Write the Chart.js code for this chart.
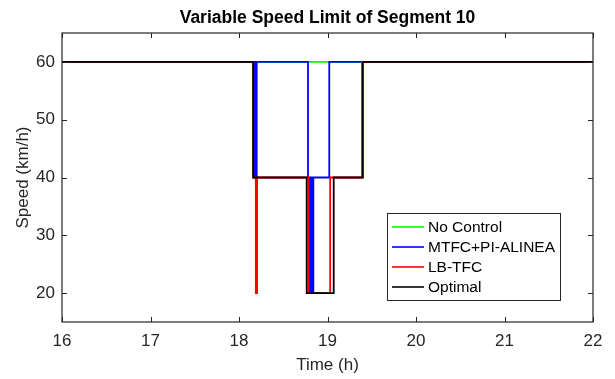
<!DOCTYPE html>
<html>
<head>
<meta charset="utf-8">
<script src="https://cdn.jsdelivr.net/npm/chart.js@4"></script>
<style>
  html, body { margin: 0; padding: 0; background: #fff; }
  #wrap { width: 615px; height: 379px; }
</style>
</head>
<body>
<div id="wrap"><canvas id="vslChart" width="615" height="379"></canvas></div>
<script>
// Speed limit of segment 10, each series as (time, new value) step points
const noControlTime = [16, 22];
const noControlSpeed = [60, 60];

const mtfcTime = [16, 18.18, 18.20, 18.78, 18.80, 18.81, 18.815, 18.825, 18.83, 18.84, 19.02, 22];
const mtfcSpeed = [60, 40, 60, 40, 20, 40, 20, 40, 20, 40, 60, 60];

const lbtfcTime = [16, 18.16, 18.19, 18.205, 18.785, 19.03, 19.39, 22];
const lbtfcSpeed = [60, 40, 20, 40, 20, 40, 60, 60];

const optimalTime = [16, 18.16, 18.765, 19.07, 19.40, 22];
const optimalSpeed = [60, 40, 20, 40, 60, 60];

const xTicks = [16, 17, 18, 19, 20, 21, 22];
const yTicks = [20, 30, 40, 50, 60];

const FONT = "'Liberation Sans', Arial, Helvetica, sans-serif";
const AXIS_COLOR = "#262626";

function toPoints(times, speeds) {
  return times.map((t, i) => ({ x: t, y: speeds[i] }));
}

// order: higher numbers are painted first, so Optimal ends up on top
function series(label, color, times, speeds, order) {
  return {
    label: label,
    data: toPoints(times, speeds),
    borderColor: color,
    backgroundColor: color,
    borderWidth: 1.8,
    stepped: true,
    pointRadius: 0,
    fill: false,
    order: order,
  };
}

// box, inward ticks, title and legend drawn like the matlab figure
const matlabFrame = {
  id: "matlabFrame",
  afterDatasetsDraw(chart) {
    const { ctx, chartArea: a, scales } = chart;
    const tick = 5;
    ctx.save();
    ctx.strokeStyle = AXIS_COLOR;
    ctx.lineWidth = 1;
    ctx.beginPath();
    xTicks.forEach((v) => {
      const px = Math.round(scales.x.getPixelForValue(v)) + 0.5;
      ctx.moveTo(px, a.bottom); ctx.lineTo(px, a.bottom - tick);
      ctx.moveTo(px, a.top); ctx.lineTo(px, a.top + tick);
    });
    yTicks.forEach((v) => {
      const py = Math.round(scales.y.getPixelForValue(v)) + 0.5;
      ctx.moveTo(a.left, py); ctx.lineTo(a.left + tick, py);
      ctx.moveTo(a.right, py); ctx.lineTo(a.right - tick, py);
    });
    ctx.stroke();
    ctx.lineWidth = 1.2;
    ctx.strokeRect(a.left, a.top, a.right - a.left, a.bottom - a.top);

    // title
    ctx.fillStyle = "#000";
    ctx.font = "bold 17.5px " + FONT;
    ctx.textAlign = "center";
    ctx.textBaseline = "alphabetic";
    ctx.fillText("Variable Speed Limit of Segment 10", (a.left + a.right) / 2, 22.5);

    // legend
    const lx = 387, ly = 213, lw = 173, lh = 87;
    ctx.fillStyle = "#fff";
    ctx.fillRect(lx, ly, lw, lh);
    ctx.strokeStyle = AXIS_COLOR;
    ctx.lineWidth = 1;
    ctx.strokeRect(lx + 0.5, ly + 0.5, lw, lh);
    ctx.font = "15.5px " + FONT;
    ctx.textAlign = "left";
    ctx.textBaseline = "middle";
    const entries = chart.data.datasets.slice();
    entries.forEach((ds, i) => {
      const y = ly + 14 + i * 20;
      ctx.strokeStyle = ds.borderColor;
      ctx.lineWidth = 1.6;
      ctx.beginPath();
      ctx.moveTo(lx + 5, y); ctx.lineTo(lx + 37, y);
      ctx.stroke();
      ctx.fillStyle = "#000";
      ctx.fillText(ds.label, lx + 41, y + 1);
    });
    ctx.restore();
  },
};

new Chart(document.getElementById("vslChart"), {
  type: "line",
  data: {
    datasets: [
      series("No Control", "#00ff00", noControlTime, noControlSpeed, 3),
      series("MTFC+PI-ALINEA", "#0000ff", mtfcTime, mtfcSpeed, 2),
      series("LB-TFC", "#ff0000", lbtfcTime, lbtfcSpeed, 1),
      series("Optimal", "#000000", optimalTime, optimalSpeed, 0),
    ],
  },
  options: {
    responsive: false,
    animation: false,
    layout: { padding: { top: 33, right: 22, left: 0, bottom: 0 } },
    plugins: {
      legend: { display: false },
      title: { display: false },
      tooltip: { enabled: false },
    },
    scales: {
      x: {
        type: "linear",
        min: 16,
        max: 22,
        afterBuildTicks: (s) => { s.ticks = xTicks.map((v) => ({ value: v })); },
        afterFit: (s) => { s.height = 57; },
        grid: { display: false, drawTicks: false },
        border: { display: false },
        ticks: { color: AXIS_COLOR, font: { family: FONT, size: 17 }, padding: 9, maxRotation: 0 },
        title: { display: true, text: "Time (h)", color: AXIS_COLOR, font: { family: FONT, size: 17 }, padding: { top: 0, bottom: 3 } },
      },
      y: {
        min: 15,
        max: 65,
        afterBuildTicks: (s) => { s.ticks = yTicks.map((v) => ({ value: v })); },
        afterFit: (s) => { s.width = 62; },
        grid: { display: false, drawTicks: false },
        border: { display: false },
        ticks: { color: AXIS_COLOR, font: { family: FONT, size: 17 }, padding: 7 },
        title: { display: true, text: "Speed (km/h)", color: AXIS_COLOR, font: { family: FONT, size: 17 }, padding: { top: 13, bottom: 0 } },
      },
    },
  },
  plugins: [matlabFrame],
});
</script>
</body>
</html>
